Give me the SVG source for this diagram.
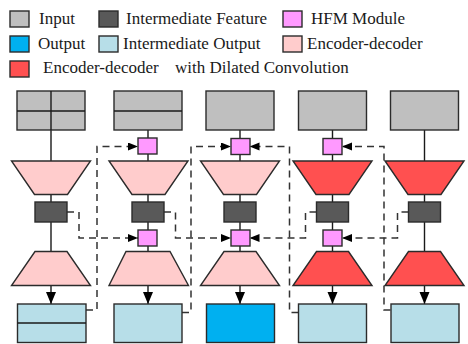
<svg xmlns="http://www.w3.org/2000/svg" width="468" height="344" viewBox="0 0 468 344">
<defs>
<style>
.bx{stroke:#2b2b2b;stroke-width:1.4}
.in{fill:#bfbfbf}.fe{fill:#595959}.hf{fill:#ff99ff}.ou{fill:#00b0f0}.io{fill:#b7dee8}.ed{fill:#ffcccc}.dc{fill:#ff5050}
.ln{stroke:#1a1a1a;stroke-width:1.4;fill:none}
.ds{stroke:#333;stroke-width:1.5;fill:none;stroke-dasharray:7,5}
.lg{font-family:"Liberation Serif","Times New Roman",serif;font-size:17px;fill:#1a1a1a}
</style>
<marker id="ah" markerUnits="userSpaceOnUse" markerWidth="11" markerHeight="9" refX="10" refY="4" orient="auto"><path d="M0,0 L10,4 L0,8 z" fill="#000"/></marker>
<marker id="ad" markerUnits="userSpaceOnUse" markerWidth="13" markerHeight="11" refX="12" refY="5" orient="auto"><path d="M0,0 L12,5 L0,10 z" fill="#000"/></marker>
</defs>
<rect width="468" height="344" fill="#fff"/>

<g id="legend">
<rect class="bx in" x="10" y="11" width="19" height="16"/><text class="lg" x="39" y="24">Input</text>
<rect class="bx fe" x="99" y="11" width="19" height="16"/><text class="lg" x="126" y="24">Intermediate Feature</text>
<rect class="bx hf" x="283" y="11" width="19" height="16"/><text class="lg" x="311" y="24">HFM Module</text>
<rect class="bx ou" x="10" y="36" width="19" height="16"/><text class="lg" x="38" y="49">Output</text>
<rect class="bx io" x="99" y="36" width="19" height="16"/><text class="lg" x="123" y="49">Intermediate Output</text>
<rect class="bx ed" x="283" y="36" width="19" height="16"/><text class="lg" x="307" y="49">Encoder-decoder</text>
<rect class="bx dc" x="10" y="61" width="19" height="16"/><text class="lg" x="43" y="73">Encoder-decoder<tspan x="175">with Dilated Convolution</tspan></text>
</g>

<g id="connectors">
<!-- solid vertical links -->
<path class="ln" d="M51,130V161M51,194.5V202M51,222V251.5M148,130V138M148,154V161M148,194.5V202M148,222V230M148,246V251.5M240,130V138M240,154V161M240,194.5V202M240,222V230M240,246V251.5M332.5,130V138M332.5,154V161M332.5,194.5V202M332.5,222V230M332.5,246V251.5M424.5,130V161M424.5,194.5V202M424.5,222V251.5"/>
<path class="ln" d="M51,285.5V304" marker-end="url(#ad)"/>
<path class="ln" d="M148,285.5V304" marker-end="url(#ad)"/>
<path class="ln" d="M240,285.5V304" marker-end="url(#ad)"/>
<path class="ln" d="M332.5,285.5V304" marker-end="url(#ad)"/>
<path class="ln" d="M424.5,285.5V304" marker-end="url(#ad)"/>
<!-- dashed HFM links -->
<path class="ds" d="M86,310H97V146.5H138" marker-end="url(#ah)"/>
<path class="ds" d="M67,212H79V238H138" marker-end="url(#ah)"/>
<path class="ds" d="M182,312.5H191V146.5H231" marker-end="url(#ah)"/>
<path class="ds" d="M164,212H175.5V238H231" marker-end="url(#ah)"/>
<path class="ds" d="M298.5,312.5H289.5V146.5H249.5" marker-end="url(#ah)"/>
<path class="ds" d="M316.5,212H305.5V238H249.5" marker-end="url(#ah)"/>
<path class="ds" d="M390.5,310H384V146.5H342" marker-end="url(#ah)"/>
<path class="ds" d="M408.5,212H397.5V238H342" marker-end="url(#ah)"/>
</g>

<g id="col1">
<g id="input1"><rect class="bx in" x="17" y="91" width="68" height="39"/><path class="ln" d="M51,91V130M17,111H85"/></g>
<polygon id="enc1a" class="bx ed" points="11.5,161 90.5,161 67.5,194.5 34.5,194.5"/>
<rect id="feat1" class="bx fe" x="35" y="202" width="32" height="20"/>
<polygon id="enc1b" class="bx ed" points="35,251.5 67,251.5 90.5,285.5 11.5,285.5"/>
<g id="out1"><rect class="bx io" x="17.5" y="304" width="68.5" height="38.5"/><path class="ln" d="M17.5,323H86"/></g>
</g>

<g id="col2">
<g id="input2"><rect class="bx in" x="114" y="91" width="68" height="39"/><path class="ln" d="M114,111H182"/></g>
<rect id="hfm2a" class="bx hf" x="138" y="138" width="19" height="16"/>
<polygon id="enc2a" class="bx ed" points="109,161 188,161 165,194.5 132,194.5"/>
<rect id="feat2" class="bx fe" x="132" y="202" width="32" height="20"/>
<rect id="hfm2b" class="bx hf" x="138" y="230" width="19" height="16"/>
<polygon id="enc2b" class="bx ed" points="126,251.5 170,251.5 188.5,285.5 109,285.5"/>
<rect id="out2" class="bx io" x="114" y="304" width="68" height="38.5"/>
</g>

<g id="col3">
<rect id="input3" class="bx in" x="206" y="91" width="68" height="39"/>
<rect id="hfm3a" class="bx hf" x="231" y="138.5" width="19" height="16"/>
<polygon id="enc3a" class="bx ed" points="200.5,161 279.5,161 256.5,194.5 223.5,194.5"/>
<rect id="feat3" class="bx fe" x="224" y="202" width="32" height="20"/>
<rect id="hfm3b" class="bx hf" x="231" y="230" width="19" height="16"/>
<polygon id="enc3b" class="bx ed" points="224,251.5 256,251.5 279.5,285.5 200.5,285.5"/>
<rect id="out3" class="bx ou" x="206.5" y="304" width="68" height="38.5"/>
</g>

<g id="col4">
<rect id="input4" class="bx in" x="298.5" y="91" width="68" height="39"/>
<rect id="hfm4a" class="bx hf" x="323" y="138.5" width="19" height="16"/>
<polygon id="enc4a" class="bx dc" points="293,161 372,161 349,194.5 316,194.5"/>
<rect id="feat4" class="bx fe" x="316.5" y="202" width="32" height="20"/>
<rect id="hfm4b" class="bx hf" x="323" y="230" width="19" height="16"/>
<polygon id="enc4b" class="bx dc" points="316.5,251.5 348.5,251.5 372,285.5 293,285.5"/>
<rect id="out4" class="bx io" x="298.5" y="304" width="68" height="38.5"/>
</g>

<g id="col5">
<rect id="input5" class="bx in" x="390.5" y="91" width="68" height="39"/>
<polygon id="enc5a" class="bx dc" points="385,161 464,161 441,194.5 408,194.5"/>
<rect id="feat5" class="bx fe" x="408.5" y="202" width="32" height="20"/>
<polygon id="enc5b" class="bx dc" points="408.5,251.5 440.5,251.5 464,285.5 385,285.5"/>
<rect id="out5" class="bx io" x="391" y="304" width="68" height="38.5"/>
</g>
</svg>
